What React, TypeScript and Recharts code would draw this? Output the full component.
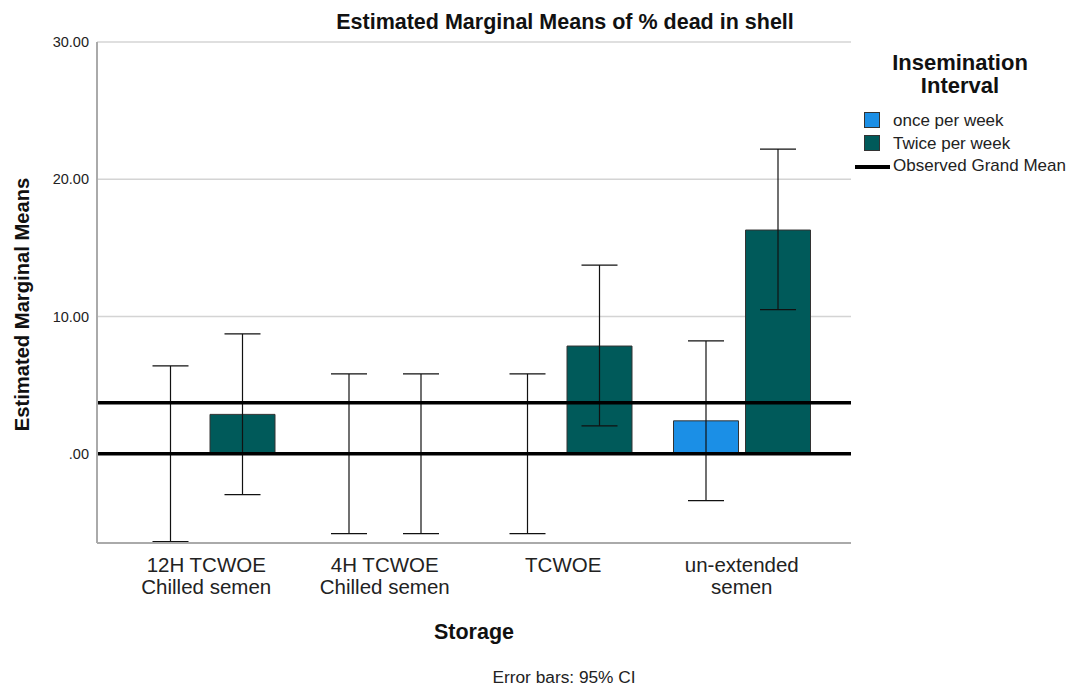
import { BarChart, Bar, XAxis, YAxis, CartesianGrid, ErrorBar, ReferenceLine } from "recharts"

const storage = ["12H TCWOE\nChilled semen", "4H TCWOE\nChilled semen", "TCWOE", "un-extended\nsemen"]
const onceMean = [0, 0, 0, 2.4]
const onceLow = [-6.4, -5.82, -5.82, -3.42]
const onceHigh = [6.4, 5.82, 5.82, 8.22]
const twiceMean = [2.87, 0, 7.85, 16.3]
const twiceLow = [-2.98, -5.82, 2.04, 10.5]
const twiceHigh = [8.73, 5.82, 13.75, 22.2]
const grandMean = 3.71
const yTicks = [0, 10, 20, 30]

const data = storage.map((s, i) => ({
  storage: s,
  once: onceMean[i],
  onceErr: [onceMean[i] - onceLow[i], onceHigh[i] - onceMean[i]],
  twice: twiceMean[i],
  twiceErr: [twiceMean[i] - twiceLow[i], twiceHigh[i] - twiceMean[i]],
}))

const font = "'Liberation Sans', Arial, sans-serif"

function CategoryTick({ x, y, payload }: any) {
  const lines = String(payload.value).split("\n")
  return (
    <text x={x} y={y + 21} textAnchor="middle" fill="#222" fontSize={20.5} fontFamily={font}>
      {lines.map((l, i) => (
        <tspan key={i} x={x} dy={i === 0 ? 0 : 22}>
          {l}
        </tspan>
      ))}
    </text>
  )
}

export default function App() {
  return (
    <div style={{ position: "absolute", left: 0, top: 0, width: 1072, height: 688, background: "#fff", fontFamily: font }}>
      <BarChart
        width={1072}
        height={688}
        data={data}
        margin={{ top: 42, right: 221, bottom: 115, left: 37 }}
        barSize={65}
        barGap={7}
      >
        <CartesianGrid vertical={false} stroke="#d4d4d4" strokeWidth={1.5} />
        <XAxis
          dataKey="storage"
          tick={<CategoryTick />}
          tickLine={false}
          axisLine={{ stroke: "#aaa", strokeWidth: 2 }}
          padding={{ left: 20, right: 20 }}
          height={30}
          interval={0}
        />
        <YAxis
          width={60}
          domain={[-6.5, 30]}
          ticks={yTicks}
          allowDataOverflow
          tickLine={false}
          axisLine={{ stroke: "#aaa", strokeWidth: 2 }}
          tick={{ fill: "#222", fontSize: 14.5, fontFamily: font }}
          tickFormatter={(v: number) => (v === 0 ? ".00" : v.toFixed(2))}
        />
        <Bar dataKey="once" fill="#1b8fe6" stroke="#333" strokeWidth={1} minPointSize={0.01} isAnimationActive={false}>
          <ErrorBar dataKey="onceErr" width={18} stroke="#111" strokeWidth={1.2} />
        </Bar>
        <Bar dataKey="twice" fill="#005a5a" stroke="#333" strokeWidth={1} minPointSize={0.01} isAnimationActive={false}>
          <ErrorBar dataKey="twiceErr" width={18} stroke="#111" strokeWidth={1.2} />
        </Bar>
        <ReferenceLine y={0} stroke="#000" strokeWidth={3.5} />
        <ReferenceLine y={grandMean} stroke="#000" strokeWidth={3.5} />
      </BarChart>

      <div style={{ position: "absolute", left: 265, width: 600, top: 10, textAlign: "center", fontSize: 21.5, fontWeight: "bold", color: "#111" }}>
        Estimated Marginal Means of % dead in shell
      </div>
      <div
        style={{
          position: "absolute",
          left: 22 - 150,
          top: 306 - 13,
          width: 300,
          textAlign: "center",
          fontSize: 20.2,
          fontWeight: "bold",
          color: "#111",
          transform: "rotate(-90deg)",
        }}
      >
        Estimated Marginal Means
      </div>
      <div style={{ position: "absolute", left: 374, width: 200, top: 620, textAlign: "center", fontSize: 21.5, fontWeight: "bold", color: "#111" }}>
        Storage
      </div>
      <div style={{ position: "absolute", left: 414, width: 300, top: 667, textAlign: "center", fontSize: 17.3, color: "#222" }}>
        Error bars: 95% CI
      </div>

      <div style={{ position: "absolute", left: 860, width: 200, top: 51, textAlign: "center", fontSize: 22, fontWeight: "bold", color: "#111", lineHeight: "23px" }}>
        Insemination
        <br />
        Interval
      </div>
      <div style={{ position: "absolute", left: 864, top: 112, width: 14, height: 14, background: "#1b8fe6", border: "1px solid #333" }} />
      <div style={{ position: "absolute", left: 893, top: 111, fontSize: 17, color: "#222" }}>once per week</div>
      <div style={{ position: "absolute", left: 864, top: 135, width: 14, height: 14, background: "#005a5a", border: "1px solid #333" }} />
      <div style={{ position: "absolute", left: 893, top: 134, fontSize: 17, color: "#222" }}>Twice per week</div>
      <div style={{ position: "absolute", left: 855, top: 165, width: 35, height: 4, background: "#000" }} />
      <div style={{ position: "absolute", left: 893, top: 156, fontSize: 17, color: "#222" }}>Observed Grand Mean</div>
    </div>
  )
}
